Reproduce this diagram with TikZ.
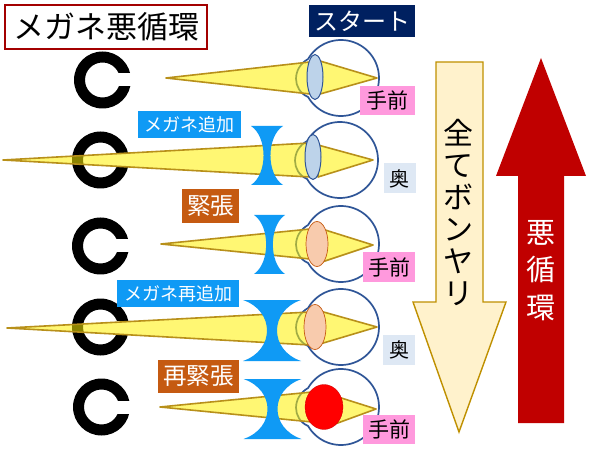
\documentclass[tikz,border=0pt]{standalone}
\usepackage{fontspec}
\setmainfont{Noto Sans CJK JP}
\usetikzlibrary{shapes.geometric}
\definecolor{eyeblue}{HTML}{2F5597}
\definecolor{gold}{HTML}{B8901A}
\definecolor{lensblue}{HTML}{0F9AF5}
\definecolor{brownbox}{HTML}{C55A11}
\definecolor{pinkbox}{HTML}{FF99DD}
\definecolor{palebox}{HTML}{DEE8F4}
\definecolor{navybox}{HTML}{002060}
\definecolor{darkred}{HTML}{C00000}
\definecolor{paleblue}{HTML}{BDD3EA}
\definecolor{peach}{HTML}{F8CBAD}
\definecolor{cream}{HTML}{FFF2CC}
\definecolor{creamedge}{HTML}{BF9000}
\tikzset{
  cone/.style={fill=yellow,fill opacity=.55,draw=gold,line width=1.6pt,line join=round},
  eyeline/.style={draw=eyeblue,line width=1.7pt},
  lensbody/.style={ellipse,inner sep=0pt,minimum height=45pt},
  thinlens/.style={lensbody,minimum width=16pt,fill=paleblue,draw=eyeblue,line width=1pt},
  fatlens/.style={lensbody,minimum width=22pt,fill=peach,draw=brownbox,line width=.7pt},
  redlens/.style={lensbody,minimum width=38pt,fill=red,draw=red!80!black,line width=.3pt},
  tag/.style={inner sep=0pt,outer sep=0pt,anchor=center,align=center},
  bluetag/.style={tag,fill=lensblue,text=white,minimum height=27pt,font=\fontsize{18}{18}\selectfont},
  browntag/.style={tag,fill=brownbox,text=white,font=\fontsize{23.5}{24}\selectfont},
  pinktag/.style={tag,fill=pinkbox,text=black,font=\fontsize{21}{21}\selectfont},
  paletag/.style={tag,fill=palebox,text=black,minimum width=32pt,minimum height=30pt,font=\fontsize{20}{20}\selectfont}
}
% ring: centre x, y
\newcommand{\ringC}[2]{%
  \fill[black,even odd rule] (#1,#2) circle[radius=28.5] (#1,#2) circle[radius=17.5];
  \fill[white] (#1+10,#2-6.5) rectangle (#1+32,#2+6.5);}
% eye: centre x, y
\newcommand{\eyeO}[2]{%
  \draw[eyeline] plot[domain=-150:150,samples=70] ({#1+38*cos(\x)},{#2+38*sin(\x)})
    .. controls (#1-49,#2+12) and (#1-49,#2-10) .. ({#1-38*cos(30)},{#2-38*sin(30)});}
% concave lens: cx, top, bottom, half width, control offset
\newcommand{\concave}[5]{%
  \fill[lensblue] (#1-#4,#2) -- (#1+#4,#2) .. controls (#1+#5,#2+11) and (#1+#5,#3-11) .. (#1+#4,#3)
    -- (#1-#4,#3) .. controls (#1-#5,#3-11) and (#1-#5,#2+11) .. cycle;}
\begin{document}
\begin{tikzpicture}[x=1pt,y=-1pt]
\useasboundingbox (0,0) rectangle (600,449);
\fill[white] (0,0) rectangle (600,449);
% rings
\ringC{102.5}{80}
\ringC{100.5}{160}
\ringC{100.5}{246}
\ringC{100.5}{327}
\ringC{101.5}{407}
% eyes
\eyeO{341}{78}
\eyeO{340}{160}
\eyeO{341}{244}
\eyeO{341}{327}
\eyeO{341}{407}
% light cones
\draw[cone] (166,78) -- (310,62) -- (310,94) -- cycle;
\draw[cone] (320,61) -- (377,78) -- (320,94) -- cycle;
\draw[cone] (3,160) -- (310,143) -- (310,177) -- cycle;
\draw[cone] (318,145) -- (373,160) -- (318,177) -- cycle;
\draw[cone] (161,244) -- (310,229) -- (310,259) -- cycle;
\draw[cone] (322,229) -- (373,245) -- (322,262) -- cycle;
\draw[cone] (7,328) -- (310,312) -- (310,345) -- cycle;
\draw[cone] (320,311) -- (377,327) -- (320,344) -- cycle;
\draw[cone] (160,407) -- (312,392) -- (312,422) -- cycle;
\draw[cone] (335,396) -- (376,409) -- (335,424) -- cycle;
% concave lenses
\concave{267}{126}{185}{16}{-0.7}
\concave{269.5}{215}{274}{15.5}{-0.7}
\concave{272}{300}{361}{29}{-3}
\concave{272.5}{379}{439}{29}{-3}
% eye lenses
\node[thinlens] (lensa) at (315,77) {};
\node[thinlens] (lensb) at (313,157) {};
\node[fatlens] (lensc) at (317,244) {};
\node[fatlens] (lensd) at (315,327) {};
\node[redlens] (lense) at (324,407) {};
% labels
\node[tag,fill=white,draw=darkred!85!black,line width=1.4pt,minimum width=202pt,minimum height=44pt,font=\fontsize{31}{31}\selectfont] (title) at (106,27) {メガネ悪循環};
\node[tag,fill=navybox,text=white,minimum width=106pt,minimum height=32pt,font=\fontsize{24}{24}\selectfont] (start) at (362,21) {スタート};
\node[bluetag,minimum width=103pt] (add) at (189.5,124.5) {メガネ追加};
\node[browntag,minimum width=57pt,minimum height=34pt] (tense) at (210.5,206) {緊張};
\node[bluetag,minimum width=122pt] (readd) at (178,293.5) {メガネ再追加};
\node[browntag,minimum width=81pt,minimum height=33pt] (retense) at (198.5,376.5) {再緊張};
\node[pinktag,minimum width=55pt,minimum height=29pt] (near1) at (387.5,100.5) {手前};
\node[paletag] (far1) at (399.5,178.5) {奥};
\node[pinktag,minimum width=52pt,minimum height=30pt] (near2) at (389,267) {手前};
\node[paletag] (far2) at (399,350) {奥};
\node[pinktag,minimum width=52pt,minimum height=29pt] (near3) at (389,429.5) {手前};
% big arrows
\draw[fill=cream,draw=creamedge,line width=1.4pt,line join=miter] (436,62) -- (483,62) -- (483,302) -- (506,302) -- (459,432) -- (413,302) -- (436,302) -- cycle;
\node[tag,font=\fontsize{30}{32}\selectfont] (blur) at (458,212) {全\\て\\ボ\\ン\\ヤ\\リ};
\fill[darkred] (541,58) -- (586,176) -- (564,176) -- (564,423) -- (518,423) -- (518,176) -- (496,176) -- cycle;
\node[tag,text=white,font=\fontsize{29}{37.5}\selectfont] (vicious) at (541,270.5) {悪\\循\\環};
\end{tikzpicture}
\end{document}
